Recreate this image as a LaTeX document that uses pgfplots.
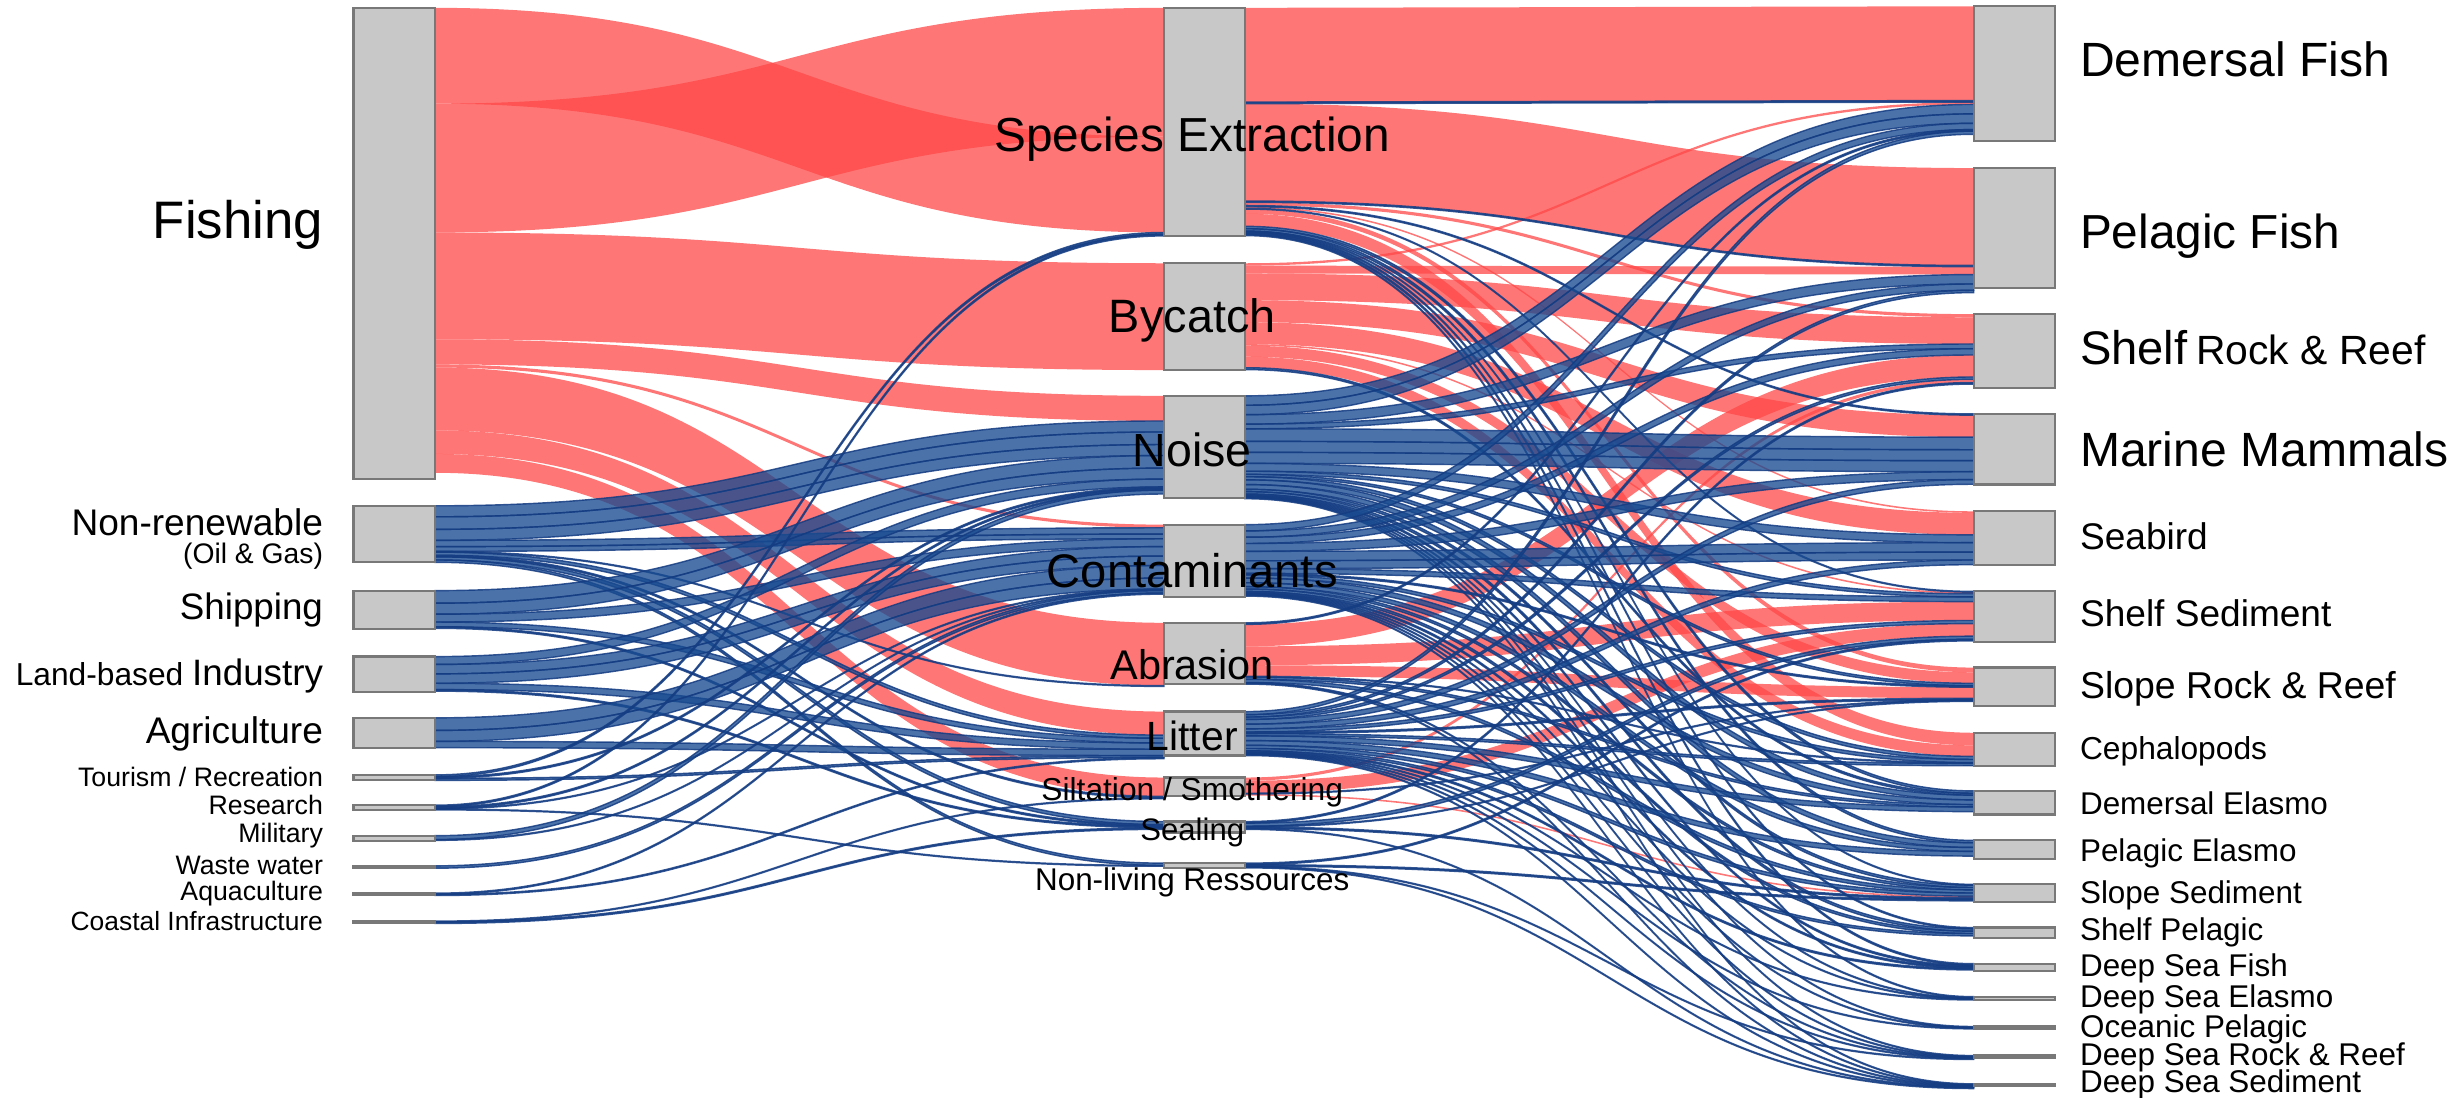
\documentclass[border=0pt]{standalone}
\usepackage{pgfplots}
\pgfplotsset{compat=1.18}
\usepackage{fontspec}
\setmainfont{Liberation Sans}
\definecolor{flowred}{RGB}{255,70,70}
\definecolor{flowblue}{RGB}{25,75,145}
\definecolor{flowedge}{RGB}{20,60,130}
\definecolor{nodegray}{RGB}{200,200,200}
\definecolor{nodeedge}{RGB}{120,120,120}
\tikzset{flowR/.style={fill=flowred,fill opacity=0.74,draw=none},
         flowB/.style={fill=flowblue,fill opacity=0.78,draw=flowedge,draw opacity=0.85,line width=0.45pt}}
\newcommand\fs[1]{\fontsize{#1}{#1}\selectfont}
% ---------- sankey helpers: node positions (x in, x out, y top) ----------
\newcommand\nodeio[4]{%
  \expandafter\xdef\csname xi@#1\endcsname{#2}%
  \expandafter\xdef\csname yi@#1\endcsname{#4}%
  \expandafter\xdef\csname xo@#1\endcsname{#3}%
  \expandafter\xdef\csname yo@#1\endcsname{#4}}
\newcommand\setpos[3]{\expandafter\xdef\csname #1@#2\endcsname{#3}}
\gdef\ribbonsR{}\gdef\ribbonsB{}
\newcommand\addribbon[7]{%
  \pgfmathsetmacro\Lm{(#1+#4)/2}%
  \expandafter\xdef\csname ribbons#7\endcsname{\unexpanded\expandafter\expandafter\expandafter{\csname ribbons#7\endcsname}%
    \noexpand\fill[flow#7] (axis cs:#1,#2) .. controls (axis cs:\Lm,#2) and (axis cs:\Lm,#5) .. (axis cs:#4,#5)
    -- (axis cs:#4,#6) .. controls (axis cs:\Lm,#6) and (axis cs:\Lm,#3) .. (axis cs:#1,#3) -- cycle;}}
\newcommand\link[4]{%
  \edef\La{\csname yo@#1\endcsname}%
  \pgfmathsetmacro\Lb{\La+#3}%
  \edef\Lc{\csname yi@#2\endcsname}%
  \pgfmathsetmacro\Ld{\Lc+#3}%
  \expandafter\xdef\csname yo@#1\endcsname{\Lb}%
  \expandafter\xdef\csname yi@#2\endcsname{\Ld}%
  \edef\Lx{\csname xo@#1\endcsname}%
  \edef\Ly{\csname xi@#2\endcsname}%
  \addribbon{\Lx}{\La}{\Lb}{\Ly}{\Lc}{\Ld}{#4}}
\newcommand\linkxy[6]{%
  \pgfmathsetmacro\Lb{#2+#5}\pgfmathsetmacro\Ld{#4+#5}%
  \addribbon{#1}{#2}{\Lb}{#3}{#4}{\Ld}{#6}}
% ---------- nodes ----------
% activities (left)
\nodeio{F}{225}{277}{5}
\nodeio{NR}{225}{277}{322}
\nodeio{SH}{225}{277}{376}
\nodeio{LB}{225}{277}{418}
\nodeio{AG}{225}{277}{457}
\nodeio{TO}{225}{277}{493.3}
\nodeio{RE}{225}{277}{512.6}
\nodeio{MI}{225}{277}{532}
\nodeio{WW}{225}{277}{551.2}
\nodeio{AQ}{225}{277}{568.6}
\nodeio{CI}{225}{277}{586.4}
% pressures (middle)
\nodeio{SE}{741}{792.5}{5}
\nodeio{BC}{741}{792.5}{167.6}
\nodeio{NO}{741}{792.5}{252}
\nodeio{CO}{741}{792.5}{334}
\nodeio{AB}{741}{792.5}{396.5}
\nodeio{LI}{741}{792.5}{453}
\nodeio{SI}{741}{792.5}{495}
\nodeio{SL}{741}{792.5}{523}
\nodeio{NL}{741}{792.5}{549.5}
% components (right)
\nodeio{DF}{1256.5}{1308}{4}
\nodeio{PF}{1256.5}{1308}{107}
\nodeio{SRR}{1256.5}{1308}{200}
\nodeio{MM}{1256.5}{1308}{263.5}
\nodeio{SB}{1256.5}{1308}{325.5}
\nodeio{SS}{1256.5}{1308}{376.5}
\nodeio{SLR}{1256.5}{1308}{425}
\nodeio{CE}{1256.5}{1308}{466.5}
\nodeio{DE}{1256.5}{1308}{503.5}
\nodeio{PE}{1256.5}{1308}{535}
\nodeio{SLS}{1256.5}{1308}{563}
\nodeio{SHP}{1256.5}{1308}{590.5}
\nodeio{DSF}{1256.5}{1308}{613.5}
\nodeio{DSE}{1256.5}{1308}{634.5}
\nodeio{OP}{1256.5}{1308}{653.5}
\nodeio{DSR}{1256.5}{1308}{672}
\nodeio{DSS}{1256.5}{1308}{690}
% ---------- links: activity -> pressure ----------
\linkxy{277}{5}{741}{87}{61}{R}
\linkxy{277}{66}{741}{5}{82}{R}
\setpos{yo}{F}{148}\setpos{yi}{SE}{148}
\link{F}{BC}{68}{R}
\link{F}{NO}{16}{R}
\link{F}{CO}{2}{R}
\link{F}{AB}{40}{R}
\link{F}{LI}{15}{R}
\link{F}{SI}{12}{R}
\link{NR}{NO}{7}{B}
\link{NR}{NO}{8}{B}
\link{NR}{NO}{7}{B}
\link{NR}{CO}{4}{B}
\link{NR}{CO}{3}{B}
\link{NR}{AB}{0.5}{B}
\link{NR}{LI}{2}{B}
\link{NR}{SI}{1}{B}
\link{NR}{SL}{2}{B}
\link{NR}{NL}{1.5}{B}
\link{SH}{NO}{8}{B}
\link{SH}{NO}{7}{B}
\link{SH}{CO}{5}{B}
\link{SH}{LI}{3}{B}
\link{SH}{SL}{1}{B}
\link{LB}{NO}{5}{B}
\link{LB}{CO}{6}{B}
\link{LB}{CO}{6}{B}
\link{LB}{LI}{4}{B}
\link{LB}{SL}{1}{B}
\link{AG}{CO}{8}{B}
\link{AG}{CO}{7}{B}
\link{AG}{LI}{4}{B}
\link{TO}{SE}{1.2}{B}
\link{TO}{NO}{1}{B}
\link{TO}{LI}{1.3}{B}
\link{RE}{SE}{1}{B}
\link{RE}{NO}{1}{B}
\link{RE}{CO}{0.5}{B}
\link{RE}{NL}{0.5}{B}
\link{MI}{NO}{2.5}{B}
\link{MI}{CO}{0.5}{B}
\link{WW}{CO}{1.5}{B}
\link{AQ}{CO}{0.75}{B}
\link{AQ}{LI}{0.75}{B}
\link{CI}{SI}{0.5}{B}
\link{CI}{SL}{1}{B}
% ---------- links: pressure -> component ----------
\link{SE}{DF}{60}{R}
\link{SE}{DF}{1}{B}
\link{SE}{PF}{62}{R}
\link{SE}{PF}{0.8}{B}
\link{SE}{SRR}{2}{R}
\link{SE}{MM}{0.8}{B}
\link{SE}{SB}{1}{R}
\link{SE}{SS}{0.5}{B}
\link{SE}{SLR}{3}{R}
\link{SE}{CE}{8}{R}
\link{SE}{DE}{1.5}{B}
\link{SE}{PE}{1.5}{B}
\link{SE}{SLS}{0.5}{B}
\link{SE}{SHP}{0.8}{B}
\link{SE}{DSF}{1}{B}
\link{SE}{DSE}{0.6}{B}
\link{BC}{DF}{1.5}{R}
\link{BC}{PF}{5}{R}
\link{BC}{SRR}{17}{R}
\link{BC}{MM}{14}{R}
\link{BC}{SB}{14}{R}
\link{BC}{SS}{1}{R}
\link{BC}{SLR}{7}{R}
\link{BC}{CE}{7}{R}
\link{BC}{DE}{1.2}{B}
\link{NO}{DF}{6}{B}
\link{NO}{DF}{6}{B}
\link{NO}{PF}{6}{B}
\link{NO}{SRR}{3}{B}
\link{NO}{MM}{8}{B}
\link{NO}{MM}{7}{B}
\link{NO}{MM}{7}{B}
\link{NO}{SB}{5}{B}
\link{NO}{SS}{2}{B}
\link{NO}{SLR}{1.5}{B}
\link{NO}{CE}{2}{B}
\link{NO}{DE}{3}{B}
\link{NO}{PE}{3}{B}
\link{NO}{SLS}{1.5}{B}
\link{NO}{SHP}{1.5}{B}
\link{NO}{DSF}{1}{B}
\link{NO}{DSE}{0.5}{B}
\link{NO}{OP}{0.5}{B}
\link{NO}{DSR}{0.5}{B}
\link{NO}{DSS}{0.5}{B}
\link{CO}{DF}{4}{B}
\link{CO}{PF}{4}{B}
\link{CO}{SRR}{4}{B}
\link{CO}{MM}{5}{B}
\link{CO}{SB}{6}{B}
\link{CO}{SB}{5}{B}
\link{CO}{SS}{3}{B}
\link{CO}{SLR}{1}{B}
\link{CO}{CE}{2}{B}
\link{CO}{DE}{3}{B}
\link{CO}{PE}{2.5}{B}
\link{CO}{SLS}{1.5}{B}
\link{CO}{SHP}{1.5}{B}
\link{CO}{DSF}{1}{B}
\link{CO}{DSE}{0.5}{B}
\link{CO}{OP}{0.5}{B}
\link{CO}{DSR}{0.5}{B}
\link{CO}{DSS}{0.5}{B}
\link{AB}{DF}{1}{B}
\link{AB}{SRR}{14}{R}
\link{AB}{SS}{12}{R}
\link{AB}{SLR}{7}{R}
\link{AB}{CE}{0.5}{B}
\link{AB}{DE}{1.5}{B}
\link{AB}{SLS}{2}{B}
\link{AB}{DSR}{0.5}{B}
\link{AB}{DSS}{0.5}{B}
\link{LI}{DF}{2}{B}
\link{LI}{PF}{1.5}{B}
\link{LI}{SRR}{1.5}{B}
\link{LI}{MM}{3}{B}
\link{LI}{SB}{3}{B}
\link{LI}{SS}{2}{B}
\link{LI}{SLR}{1}{B}
\link{LI}{CE}{1.5}{B}
\link{LI}{DE}{3}{B}
\link{LI}{PE}{3}{B}
\link{LI}{SLS}{2}{B}
\link{LI}{SHP}{1.5}{B}
\link{LI}{DSF}{1}{B}
\link{LI}{DSE}{0.5}{B}
\link{LI}{OP}{0.5}{B}
\link{LI}{DSR}{0.5}{B}
\link{LI}{DSS}{0.5}{B}
\link{SI}{SRR}{2}{R}
\link{SI}{SS}{8}{R}
\link{SI}{SLR}{0.5}{B}
\link{SI}{SLS}{1}{R}
\link{SL}{SRR}{1}{B}
\link{SL}{SS}{2}{B}
\link{SL}{SLR}{0.5}{B}
\link{SL}{SLS}{1}{B}
\link{SL}{DSS}{0.5}{B}
\link{NL}{SS}{1}{B}
\link{NL}{SLS}{1}{B}
\link{NL}{DSR}{0.5}{B}
\link{NL}{DSS}{0.5}{B}
\newcommand\nbox[4]{\addplot[fill=nodegray,draw=nodeedge,line width=0.7pt,mark=none] coordinates {(#1,#2) (#3,#2) (#3,#4) (#1,#4)} -- cycle;}
\begin{document}
\begin{tikzpicture}
\useasboundingbox (0,0) rectangle (784pt,349.5pt);
\begin{axis}[at={(0,0)}, anchor=south west, scale only axis, width=784pt, height=349.5pt,
  xmin=0, xmax=1568, ymin=0, ymax=699, y dir=reverse, hide axis, clip=false]
\ribbonsR
\ribbonsB
% activity boxes
\nbox{225}{5}{277}{305}
\nbox{225}{322}{277}{358}
\nbox{225}{376}{277}{400.5}
\nbox{225}{418}{277}{440.7}
\nbox{225}{457.3}{277}{476}
\nbox{225}{493.3}{277}{496.8}
\nbox{225}{512.6}{277}{515.8}
\nbox{225}{532}{277}{535.2}
\nbox{225}{551.2}{277}{552.6}
\nbox{225}{568.6}{277}{570}
\nbox{225}{586.4}{277}{587.8}
% pressure boxes
\nbox{741}{5}{792.5}{150}
\nbox{741}{167.6}{792.5}{235.3}
\nbox{741}{252}{792.5}{317}
\nbox{741}{334}{792.5}{380}
\nbox{741}{396.5}{792.5}{435.5}
\nbox{741}{453}{792.5}{481}
\nbox{741}{495}{792.5}{507}
\nbox{741}{523}{792.5}{530}
\nbox{741}{549.5}{792.5}{552.5}
% component boxes
\nbox{1256.5}{4}{1308}{90}
\nbox{1256.5}{107}{1308}{183.5}
\nbox{1256.5}{200}{1308}{247}
\nbox{1256.5}{263.5}{1308}{308.5}
\nbox{1256.5}{325.5}{1308}{359.5}
\nbox{1256.5}{376.5}{1308}{408.5}
\nbox{1256.5}{425}{1308}{449.5}
\nbox{1256.5}{466.5}{1308}{487.5}
\nbox{1256.5}{503.5}{1308}{518.5}
\nbox{1256.5}{535}{1308}{547}
\nbox{1256.5}{563}{1308}{574}
\nbox{1256.5}{590.5}{1308}{597}
\nbox{1256.5}{613.5}{1308}{618}
\nbox{1256.5}{634.5}{1308}{636.6}
\nbox{1256.5}{653.5}{1308}{655}
\nbox{1256.5}{672}{1308}{673.5}
\nbox{1256.5}{690}{1308}{691.5}
% left labels
\begin{scope}[every node/.style={inner sep=0pt, anchor=base east}]
\node[font=\fs{16.8}] at (axis cs:206,151.7) {Fishing};
\node[font=\fs{11.8}] at (axis cs:206,340.6) {Non-renewable};
\node[font=\fs{9}] at (axis cs:206,358.6) {(Oil \& Gas)};
\node[font=\fs{11.7}] at (axis cs:206,394.7) {Shipping};
\node at (axis cs:206,436.1) {{\fs{10.1}Land-based }{\fs{11.7}Industry}};
\node[font=\fs{11.8}] at (axis cs:206,473.2) {Agriculture};
\node[font=\fs{8.5}] at (axis cs:206,500.4) {Tourism / Recreation};
\node[font=\fs{8.5}] at (axis cs:206,518.8) {Research};
\node[font=\fs{8.5}] at (axis cs:206,536.5) {Military};
\node[font=\fs{8.5}] at (axis cs:206,556.6) {Waste water};
\node[font=\fs{8.5}] at (axis cs:206,573.4) {Aquaculture};
\node[font=\fs{8.4}] at (axis cs:206,592.1) {Coastal Infrastructure};
\end{scope}
% middle labels
\begin{scope}[every node/.style={inner sep=0pt, anchor=base}]
\node[font=\fs{15.2}] at (axis cs:759,96.6) {Species Extraction};
\node[font=\fs{14.9}] at (axis cs:759,211.4) {Bycatch};
\node[font=\fs{14.8}] at (axis cs:759,296.7) {Noise};
\node[font=\fs{15}] at (axis cs:759,373.9) {Contaminants};
\node[font=\fs{13.2}] at (axis cs:759,432.9) {Abrasion};
\node[font=\fs{13}] at (axis cs:759,477.5) {Litter};
\node[font=\fs{10.1}] at (axis cs:759,509.3) {Siltation / Smothering};
\node[font=\fs{9.9}] at (axis cs:759,534.8) {Sealing};
\node[font=\fs{10}] at (axis cs:759,566.6) {Non-living Ressources};
\end{scope}
% right labels
\begin{scope}[every node/.style={inner sep=0pt, anchor=base west}]
\node[font=\fs{15.3}] at (axis cs:1323.8,48.9) {Demersal Fish};
\node[font=\fs{15.2}] at (axis cs:1323.8,158) {Pelagic Fish};
\node at (axis cs:1323.8,231.9) {{\fs{15}Shelf} {\fs{13}Rock \& Reef}};
\node[font=\fs{15.3}] at (axis cs:1323.8,296.7) {Marine Mammals};
\node[font=\fs{11.8}] at (axis cs:1323.8,350.1) {Seabird};
\node[font=\fs{11.8}] at (axis cs:1323.8,399) {Shelf Sediment};
\node[font=\fs{11.9}] at (axis cs:1323.8,444.5) {Slope Rock \& Reef};
\node[font=\fs{10.1}] at (axis cs:1323.8,483.6) {Cephalopods};
\node[font=\fs{10}] at (axis cs:1323.8,518.4) {Demersal Elasmo};
\node[font=\fs{10}] at (axis cs:1323.8,548.4) {Pelagic Elasmo};
\node[font=\fs{10}] at (axis cs:1323.8,575.3) {Slope Sediment};
\node[font=\fs{10}] at (axis cs:1323.8,598.9) {Shelf Pelagic};
\node[font=\fs{10}] at (axis cs:1323.8,621.6) {Deep Sea Fish};
\node[font=\fs{10}] at (axis cs:1323.8,641.2) {Deep Sea Elasmo};
\node[font=\fs{10}] at (axis cs:1323.8,660.5) {Oceanic Pelagic};
\node[font=\fs{10}] at (axis cs:1323.8,678.6) {Deep Sea Rock \& Reef};
\node[font=\fs{10}] at (axis cs:1323.8,695.7) {Deep Sea Sediment};
\end{scope}
\end{axis}
\end{tikzpicture}
\end{document}
